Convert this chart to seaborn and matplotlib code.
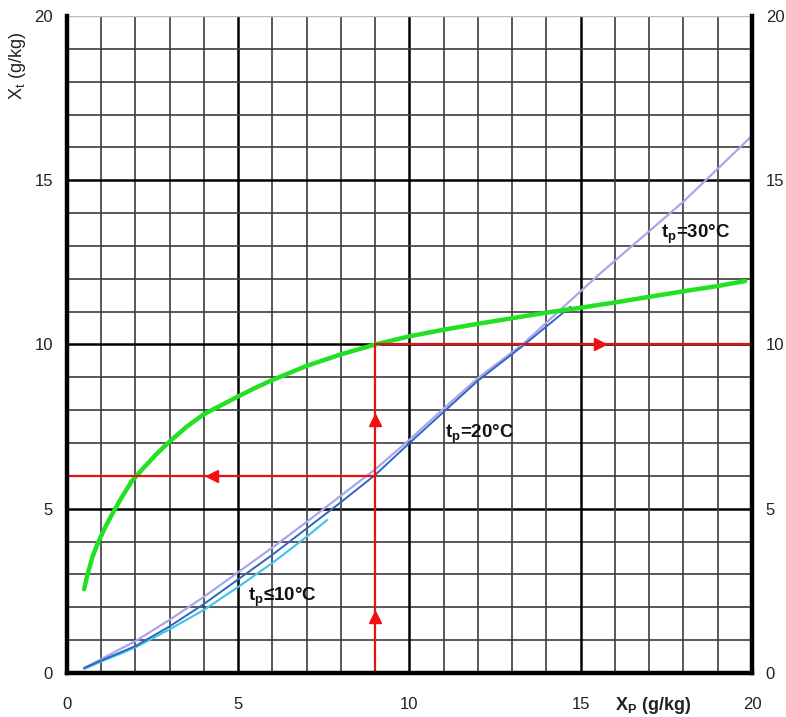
import matplotlib
matplotlib.use("Agg")
import matplotlib.pyplot as plt
import seaborn as sns

# green curve
green_x = [0.5, 0.6, 0.75, 0.9, 1.1, 1.3, 1.6, 1.9, 2.2, 2.6, 3, 3.5, 4, 4.5, 5, 5.5, 6, 7, 8, 9,
           10, 11, 12, 13, 14, 15, 16, 17, 18, 19, 19.8]
green_y = [2.55, 3.0, 3.55, 3.95, 4.4, 4.8, 5.35, 5.85, 6.2, 6.65, 7.05, 7.5, 7.88, 8.15, 8.42, 8.68,
           8.92, 9.35, 9.7, 10.0, 10.25, 10.45, 10.63, 10.8, 10.97, 11.12, 11.28, 11.45, 11.62, 11.78, 11.93]

# tp = 30 C
t30_x = [0.5, 1, 1.5, 2, 3, 4, 5, 6, 7, 8, 9, 10, 11, 12, 13.3, 15.5, 18, 20]
t30_y = [0.15, 0.42, 0.7, 0.97, 1.62, 2.32, 3.07, 3.82, 4.6, 5.4, 6.2, 7.1, 8.05, 8.98, 10.0, 12.1, 14.35, 16.35]

# tp = 20 C
t20_x = [0.5, 1, 1.5, 2, 3, 4, 5, 6, 7, 8, 9, 10, 11, 12, 13.3, 14, 14.7]
t20_y = [0.15, 0.38, 0.6, 0.82, 1.42, 2.1, 2.85, 3.6, 4.4, 5.2, 6.03, 7.0, 7.95, 8.9, 9.95, 10.55, 11.15]

# tp <= 10 C
t10_x = [0.5, 1, 1.5, 2, 3, 4, 5, 6, 7, 7.6]
t10_y = [0.12, 0.35, 0.56, 0.78, 1.33, 1.92, 2.62, 3.35, 4.15, 4.66]

# red reading path
path_x = [0, 9, 9, 9, 20]
path_y = [6, 6, 0, 10, 10]
up_x, up_y = [9, 9], [1.7, 7.7]
right_x, right_y = [15.55], [10]
left_x, left_y = [4.23], [6]

ticks = [0, 5, 10, 15, 20]

sns.set_style("white")
plt.rcParams["font.family"] = ["Liberation Sans", "DejaVu Sans"]

fig = plt.figure(figsize=(7.86, 7.17), dpi=100)
ax = fig.add_axes([0.0852, 0.0614, 0.8715, 0.9163])

# grid: every unit, heavier every 5
for v in range(21):
    major = v % 5 == 0
    c = "black" if major else "#3c3c3c"
    lw = 1.8 if major else 1.2
    ax.axvline(v, color=c, lw=lw, zorder=0)
    if v == 20:
        ax.axhline(v, color="#bbbbbb", lw=1.0, zorder=0)
    else:
        ax.axhline(v, color=c, lw=lw, zorder=0)

sns.lineplot(x=t10_x, y=t10_y, color="#3cc4ea", lw=1.5, sort=False, ax=ax)
sns.lineplot(x=t30_x, y=t30_y, color="#aaa5ea", lw=1.6, sort=False, ax=ax)
sns.lineplot(x=t20_x, y=t20_y, color="#2f66c2", lw=1.4, sort=False, ax=ax)
sns.lineplot(x=green_x, y=green_y, color="#22e022", lw=3.2, sort=False, ax=ax)

# red path: two segments
ax.plot(path_x[:2], path_y[:2], color="#e81010", lw=1.6)
ax.plot(path_x[2:], path_y[2:], color="#e81010", lw=1.6)
ax.plot(up_x, up_y, ls="none", marker="^", color="#f01010", ms=9)
ax.plot(right_x, right_y, ls="none", marker=">", color="#f01010", ms=9)
ax.plot(left_x, left_y, ls="none", marker="<", color="#f01010", ms=9)

ax.set_xlim(0, 20)
ax.set_ylim(0, 20)
ax.set_xticks(ticks)
ax.set_yticks(ticks)
ax.tick_params(length=0, labelsize=12, labelright=True, labelcolor="#222222")
ax.tick_params(axis="x", pad=17)
ax.tick_params(axis="y", pad=10)

for side in ["left", "bottom", "right"]:
    ax.spines[side].set_linewidth(3.2)
    ax.spines[side].set_color("black")
ax.spines["top"].set_visible(False)

txt = dict(fontsize=13.5, fontweight="bold", color="#111111")
ax.text(17.35, 13.25, "t$_\\mathregular{p}$=30°C", **txt)
ax.text(11.05, 7.15, "t$_\\mathregular{p}$=20°C", **txt)
ax.text(5.3, 2.2, "t$_\\mathregular{p}$≤10°C", **txt)

ax.text(0.80, -0.033, "X$_\\mathregular{P}$ (g/kg)", transform=ax.transAxes,
        fontsize=13, fontweight="bold", va="top", color="#222222")
fig.text(0.022, 0.908, "X$_\\mathregular{t}$ (g/kg)", rotation=90, fontsize=13,
         va="center", ha="center", color="#222222")

fig.savefig("out.png", dpi=100)
